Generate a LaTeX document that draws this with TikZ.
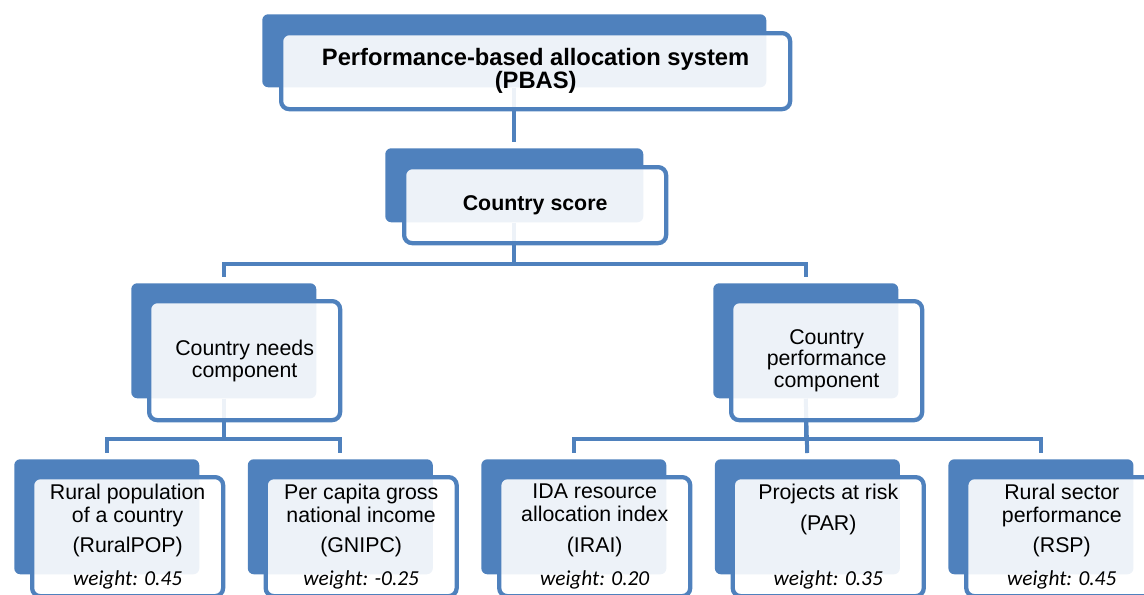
\documentclass[tikz,border=0pt]{standalone}
\usepackage{fontspec}
\setmainfont{Liberation Sans}
\newfontfamily\calibrifont{Carlito}
\usetikzlibrary{positioning,backgrounds}
\definecolor{pbasblue}{RGB}{79,129,189}

\begin{document}
\begin{tikzpicture}[
    x=0.75pt, y=-0.75pt,
    back/.style={fill=pbasblue, rounded corners=4.5pt, inner sep=0pt, anchor=north west, minimum width=138.75pt, minimum height=86.25pt},
    front/.style={draw=pbasblue, line width=3.2pt, fill=white, fill opacity=0.9, text opacity=1, rounded corners=6pt, inner sep=0pt, anchor=north west, align=center, minimum width=143.25pt, minimum height=89.25pt, font=\fontsize{16}{16.3}\selectfont},
    txt/.style={inner sep=0pt, align=center, font=\fontsize{16}{17.2}\selectfont},
    wt/.style={inner sep=0pt, anchor=base, font=\calibrifont\itshape\fontsize{16}{16}\selectfont},
    link/.style={draw=pbasblue, line width=3pt, shorten >=4.5pt},
]
\path[use as bounding box, clip] (0,0) rectangle (1144,594);

% Top of the tree
\node[back, minimum width=378pt, minimum height=54.75pt] (pbas-bk) at (262,14) {};
\node[front, minimum width=381.75pt, minimum height=57pt, font=\fontsize{17.8}{17.5}\selectfont\bfseries] (pbas) at ([shift={(17,17)}]pbas-bk.north west) {Performance-based allocation system\\(PBAS)};

\node[back, minimum width=193.5pt, minimum height=55.5pt] (score-bk) at (385,148) {};
\node[front, minimum width=196.5pt, minimum height=57pt, font=\fontsize{16}{16}\selectfont\bfseries] (score) at ([shift={(17,17)}]score-bk.north west) {Country score};

% Components
\node[back] (needs-bk) at (131,283) {};
\node[front] (needs) at ([shift={(16,16)}]needs-bk.north west) {Country needs\\component};
\node[back] (perf-bk) at (713,283) {};
\node[front] (perf) at ([shift={(16,16)}]perf-bk.north west) {Country\\performance\\component};

% Indicators, one row
\node[back] (rpop-bk) at (14,459) {};
\node[back, right=36pt of rpop-bk] (gni-bk) {};
\node[back, right=36pt of gni-bk]  (irai-bk) {};
\node[back, right=36pt of irai-bk] (par-bk) {};
\node[back, right=36pt of par-bk]  (rsp-bk) {};

\node[front] (rpop) at ([shift={(16,16)}]rpop-bk.north west) {};
\node[front] (gni)  at ([shift={(16,16)}]gni-bk.north west) {};
\node[front] (irai) at ([shift={(16,16)}]irai-bk.north west) {};
\node[front] (par)  at ([shift={(16,16)}]par-bk.north west) {};
\node[front] (rsp)  at ([shift={(16,16)}]rsp-bk.north west) {};

\node[txt, below=6.75pt of rpop.north] (rpop-t) {Rural population\\of a country\\[5.5pt](RuralPOP)};
\node[txt, below=6.75pt of gni.north]  (gni-t)  {Per capita gross\\national income\\[5.5pt](GNIPC)};
\node[txt, below=6.75pt of irai.north] (irai-t) {IDA resource\\allocation index\\[5.5pt](IRAI)};
\node[txt, below=6.75pt of par.north]  (par-t)  {Projects at risk\\[5.5pt](PAR)};
\node[txt, below=6.75pt of rsp.north]  (rsp-t)  {Rural sector\\performance\\[5.5pt](RSP)};

\node[wt] (rpop-w) at ([yshift=9.75pt]rpop.south) {weight: 0.45};
\node[wt] (gni-w)  at ([yshift=9.75pt]gni.south)  {weight: -0.25};
\node[wt] (irai-w) at ([yshift=9.75pt]irai.south) {weight: 0.20};
\node[wt] (par-w)  at ([yshift=9.75pt]par.south)  {weight: 0.35};
\node[wt] (rsp-w)  at ([yshift=9.75pt]rsp.south)  {weight: 0.45};

% Connectors, kept behind the boxes
\begin{scope}[on background layer]
\draw[link] (pbas-bk.south) -- (score-bk.north);
\draw[link] (score-bk.south) -- ++(0,41) -| (needs-bk.north);
\draw[link] (score-bk.south) -- ++(0,41) -| (perf-bk.north);
\draw[link] (needs-bk.south) -- ++(0,40) -| (rpop-bk.north);
\draw[link] (needs-bk.south) -- ++(0,40) -| (gni-bk.north);
\draw[link] (perf-bk.south) -- ++(0,40) -| (irai-bk.north);
\draw[link] (perf-bk.south) -- (par-bk.north);
\draw[link] (perf-bk.south) -- ++(0,40) -| (rsp-bk.north);
\end{scope}

\end{tikzpicture}
\end{document}
